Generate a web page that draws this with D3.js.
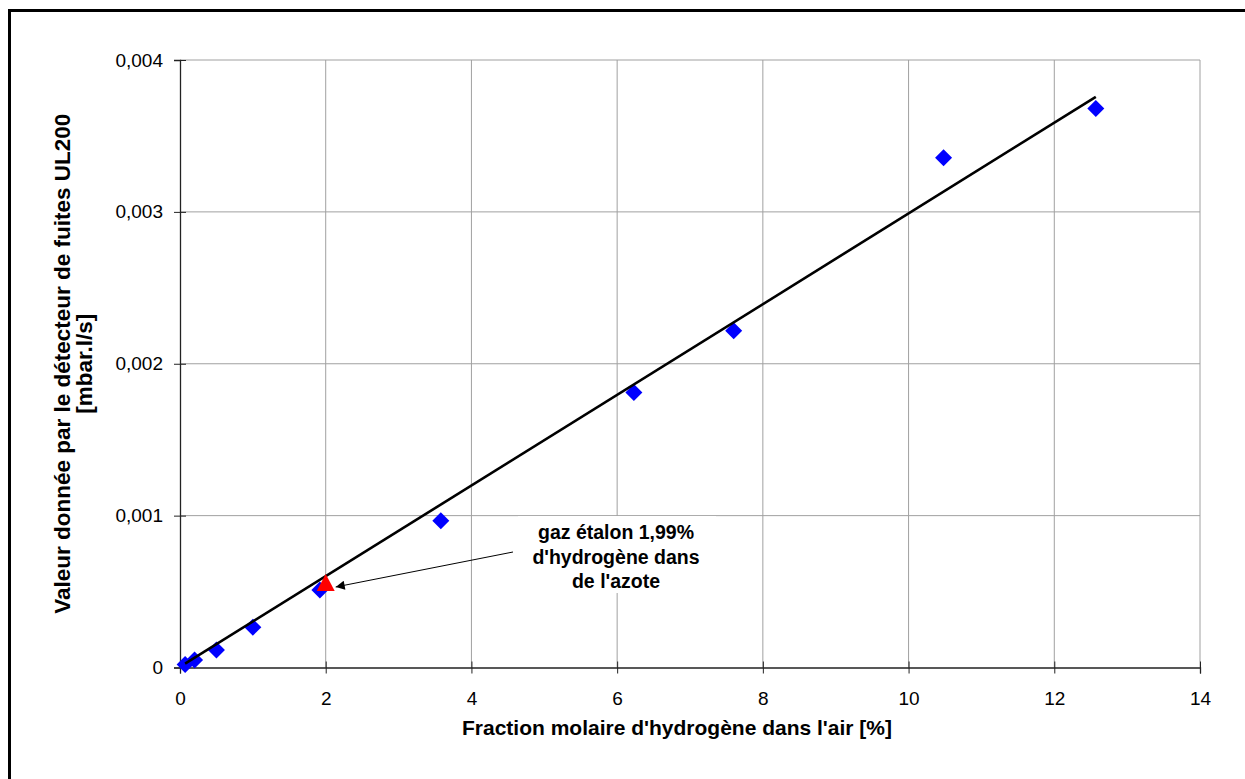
<!DOCTYPE html>
<html><head><meta charset="utf-8">
<script src="https://cdn.jsdelivr.net/npm/d3@7"></script>
<style>body{margin:0;background:#fff}svg{display:block;font-family:"Liberation Sans",Arial,sans-serif}</style>
</head><body>
<svg id="c" width="1245" height="779"></svg>
<script>
const xValues = [0.07, 0.2, 0.5, 1.0, 1.92, 3.58, 6.23, 7.6, 10.48, 12.57];
const yValues = [0.00002, 0.00005, 0.000115, 0.000265, 0.00051, 0.000966, 0.00181, 0.002217, 0.003356, 0.003681];
const refX = [2.0];
const refY = [0.00055];
const trendX = [0.07, 12.57];
const trendY = [0.000025, 0.003757];
const xTicks = [0, 2, 4, 6, 8, 10, 12, 14];
const yTicks = [0, 0.001, 0.002, 0.003, 0.004];
const yTickLabels = ["0", "0,001", "0,002", "0,003", "0,004"];
const noteLines = ["gaz étalon 1,99%", "d'hydrogène dans", "de l'azote"];

const FONT = '"Liberation Sans",Arial,sans-serif';
const svg = d3.select("#c");
const L = 180, R = 1200, T = 60, B = 667.5;
const x = d3.scaleLinear().domain([0, 14]).range([L, R]);
const y = d3.scaleLinear().domain([0, 0.004]).range([B, T]);

// outer frame
svg.append("rect").attr("x", 9.5).attr("y", 10.5).attr("width", 1260).attr("height", 800)
  .attr("fill", "none").attr("stroke", "#000").attr("stroke-width", 3);

// gridlines
const g = svg.append("g");
g.selectAll(".vg").data(xTicks.slice(1)).join("line")
  .attr("x1", d => x(d)).attr("x2", d => x(d)).attr("y1", T).attr("y2", B)
  .attr("stroke", "#a0a0a0").attr("stroke-width", 1);
g.selectAll(".hg").data(yTicks.slice(1)).join("line")
  .attr("x1", L).attr("x2", R).attr("y1", d => y(d)).attr("y2", d => y(d))
  .attr("stroke", "#a0a0a0").attr("stroke-width", 1);

// axes
const xAxis = d3.axisBottom(x).tickValues(xTicks).tickSize(6).tickPadding(18).tickFormat(d => String(d));
const ax = svg.append("g").attr("transform", `translate(0,${B})`).call(xAxis);
ax.selectAll(".tick line").attr("y1", -6).attr("stroke", "#222");
const yAxis = d3.axisLeft(y).tickValues(yTicks).tickSize(6).tickPadding(11).tickFormat((d, i) => yTickLabels[i]);
const ay = svg.append("g").attr("transform", `translate(${L},0)`).call(yAxis);
ay.selectAll(".tick line").attr("x1", 6).attr("stroke", "#222");
[ax, ay].forEach(a => {
  a.attr("font-size", 19).attr("font-family", FONT);
  a.select(".domain").attr("stroke", "#222").attr("stroke-width", 1.3);
  a.selectAll("text").attr("fill", "#000");
});

// axis titles
svg.append("text").attr("x", 677).attr("y", 735).attr("text-anchor", "middle")
  .attr("font-size", 21).attr("font-weight", "bold").text("Fraction molaire d'hydrogène dans l'air [%]");
const yt = svg.append("text").attr("transform", `translate(0,${(T + B) / 2}) rotate(-90)`)
  .attr("text-anchor", "middle").attr("font-size", 22.5).attr("font-weight", "bold");
yt.append("tspan").attr("x", 0).attr("y", 70).text("Valeur donnée par le détecteur de fuites UL200");
yt.append("tspan").attr("x", 0).attr("y", 92).text("[mbar.l/s]");

// data points (diamonds)
const pts = xValues.map((v, i) => [v, yValues[i]]);
svg.selectAll(".pt").data(pts).join("path")
  .attr("d", d => { const cx = x(d[0]), cy = y(d[1]), h = 8.5;
    return `M${cx},${cy - h}L${cx + h},${cy}L${cx},${cy + h}L${cx - h},${cy}Z`; })
  .attr("fill", "#0000ff");

// trend line
svg.append("path").datum(trendX.map((v, i) => [v, trendY[i]]))
  .attr("d", d3.line().x(d => x(d[0])).y(d => y(d[1])))
  .attr("stroke", "#000").attr("stroke-width", 2.6).attr("fill", "none");

// reference triangle
svg.selectAll(".ref").data(refX.map((v, i) => [v, refY[i]])).join("path")
  .attr("d", d => { const cx = x(d[0]), cy = y(d[1]);
    return `M${cx},${cy - 10}L${cx + 9},${cy + 7}L${cx - 9},${cy + 7}Z`; })
  .attr("fill", "#ff0000");

// annotation box
svg.append("rect").attr("x", 518).attr("y", 516).attr("width", 198).attr("height", 77).attr("fill", "#fff");
const nt = svg.append("text").attr("text-anchor", "middle").attr("font-size", 19.5).attr("font-weight", "bold");
noteLines.forEach((t, i) => nt.append("tspan").attr("x", 616).attr("y", 539 + i * 24.5).text(t));

// arrow
const tipX = x(refX[0]) + 10, tipY = y(refY[0]) + 3;
svg.append("defs").append("marker").attr("id", "ah").attr("viewBox", "0 0 10 10")
  .attr("refX", 10).attr("refY", 5).attr("markerWidth", 13).attr("markerHeight", 9)
  .attr("markerUnits", "userSpaceOnUse").attr("orient", "auto")
  .append("path").attr("d", "M0,0L10,5L0,10Z").attr("fill", "#000");
svg.append("line").attr("x1", 513).attr("y1", 552).attr("x2", tipX).attr("y2", tipY)
  .attr("stroke", "#000").attr("stroke-width", 1).attr("marker-end", "url(#ah)");
</script>
</body></html>
